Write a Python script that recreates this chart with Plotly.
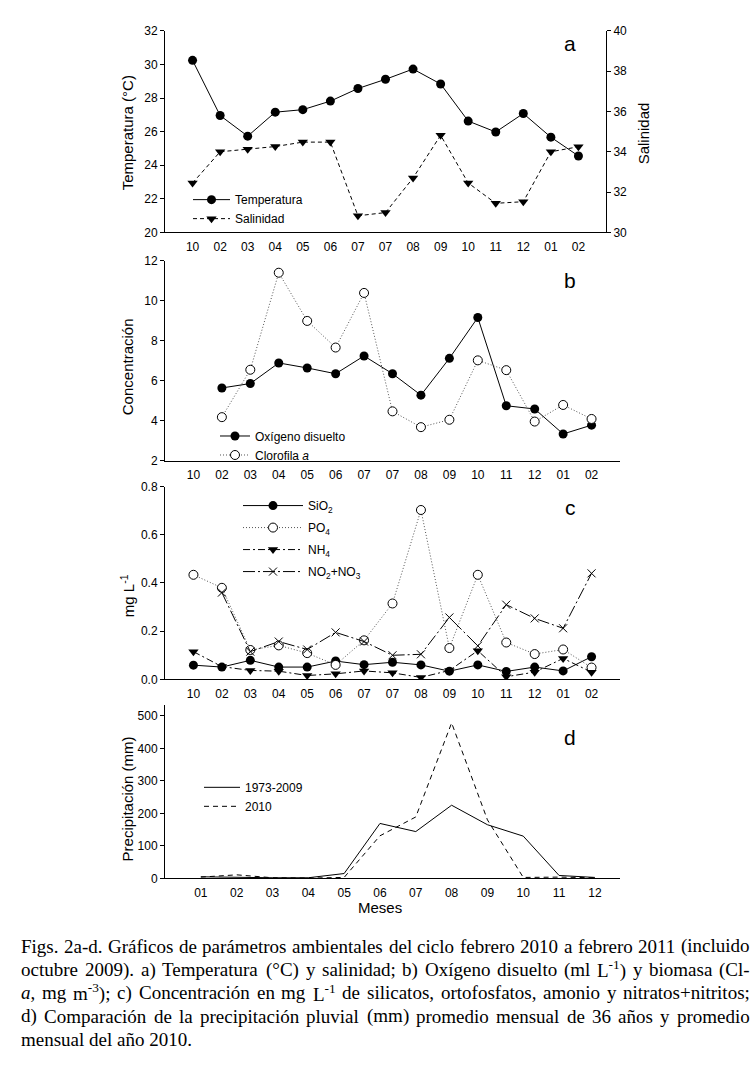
import re
import plotly.graph_objects as go

W, H = 756, 1067

# ---------------- data ----------------
meses_abc = ["10", "02", "03", "04", "05", "06", "07", "07", "08", "09", "10", "11", "12", "01", "02"]
idx_abc = list(range(len(meses_abc)))

temperatura = [30.25, 26.96, 25.73, 27.16, 27.31, 27.82, 28.57, 29.12, 29.73, 28.84, 26.63, 25.98, 27.08, 25.67, 24.55]
salinidad = [32.45, 34.0, 34.13, 34.26, 34.48, 34.48, 30.82, 30.98, 32.7, 34.82, 32.45, 31.44, 31.52, 34.0, 34.25]

oxigeno = [None, 5.65, 5.87, 6.9, 6.65, 6.36, 7.25, 6.36, 5.29, 7.13, 9.17, 4.76, 4.6, 3.35, 3.79]
clorofila = [None, 4.19, 6.56, 11.41, 9.0, 7.67, 10.4, 4.48, 3.69, 4.06, 7.03, 6.54, 3.97, 4.8, 4.1]

sio2 = [0.059, 0.051, 0.079, 0.051, 0.051, 0.076, 0.061, 0.071, 0.06, 0.034, 0.06, 0.033, 0.051, 0.035, 0.094]
po4 = [0.434, 0.38, 0.122, 0.141, 0.109, 0.06, 0.162, 0.315, 0.703, 0.13, 0.434, 0.153, 0.105, 0.124, 0.049]
nh4 = [0.115, 0.053, 0.037, 0.034, 0.016, 0.023, 0.035, 0.027, 0.008, 0.037, 0.119, 0.011, 0.03, 0.087, 0.03]
no2no3 = [None, 0.36, 0.115, 0.157, 0.124, 0.195, 0.157, 0.1, 0.104, 0.257, 0.139, 0.31, 0.253, 0.212, 0.44]

meses_d = ["01", "02", "03", "04", "05", "06", "07", "08", "09", "10", "11", "12"]
idx_d = list(range(1, 13))
prec_1973_2009 = [5, 3, 2, 2, 15, 169, 144, 225, 165, 130, 9, 3]
prec_2010 = [4, 11, 2, 1, 3, 131, 189, 478, 180, 3, 4, 2]

caption_lines = [
    "Figs. 2a-d. Gráficos de parámetros ambientales del ciclo febrero 2010 a febrero 2011 (incluido",
    "octubre 2009). a) Temperatura (°C) y salinidad; b) Oxígeno disuelto (ml L<sup>-1</sup>) y biomasa (Cl-",
    "<i>a</i>, mg m<sup>-3</sup>); c) Concentración en mg L<sup>-1</sup> de silicatos, ortofosfatos, amonio y nitratos+nitritos;",
    "d) Comparación de la precipitación pluvial (mm) promedio mensual de 36 años y promedio",
    "mensual del año 2010.",
]

# ---------------- helpers ----------------
FONT = "Liberation Sans"
SERIF = "Liberation Serif"
BLACK = "#000000"
GREY = "#555555"

# Times / Liberation Serif advance widths (1/1000 em), used to justify the caption
TIMES = {' ': 250, '(': 333, ')': 333, '+': 564, ',': 250, '-': 333, '.': 250, ':': 278, ';': 278,
         '°': 400, 'á': 444, 'é': 444, 'í': 278, 'ó': 500, 'ú': 500, 'ñ': 500,
         'A': 722, 'B': 667, 'C': 667, 'D': 722, 'E': 611, 'F': 556, 'G': 722, 'H': 722, 'I': 333,
         'L': 611, 'M': 889, 'N': 722, 'O': 722, 'P': 556, 'S': 556, 'T': 611,
         'a': 444, 'b': 500, 'c': 444, 'd': 500, 'e': 444, 'f': 333, 'g': 500, 'h': 500, 'i': 278,
         'j': 278, 'k': 500, 'l': 278, 'm': 778, 'n': 500, 'o': 500, 'p': 500, 'q': 500, 'r': 333,
         's': 389, 't': 278, 'u': 500, 'v': 500, 'w': 722, 'x': 500, 'y': 500, 'z': 444}
TIMES_ITALIC = {'a': 500}


def text_width(s, size):
    total = 0.0
    scale = 1.0
    italic = False
    for m in re.finditer(r'<(/?)(sup|i)>|([^<]+)', s):
        if m.group(3):
            for ch in m.group(3):
                if italic and ch in TIMES_ITALIC:
                    w = TIMES_ITALIC[ch]
                else:
                    w = TIMES.get(ch, 500)
                total += w * scale
        else:
            closing = m.group(1) == '/'
            if m.group(2) == 'sup':
                scale = 1.0 if closing else 0.7
            else:
                italic = not closing
    return total * size / 1000.0


def px(x):
    return x / W


def py(y):
    return 1 - y / H


LEFT = 165
RIGHT = 620
RIGHT_A = 606

fig = go.Figure()

filled_circle = dict(symbol="circle", size=9, color=BLACK)
open_circle = dict(symbol="circle", size=9, color="white", line=dict(color=BLACK, width=1))
tri = dict(symbol="triangle-down", size=9, color=BLACK)
xmark = dict(symbol="x-thin-open", size=8, color=BLACK, line=dict(color=BLACK, width=1))

# panel a
fig.add_trace(go.Scatter(x=idx_abc, y=temperatura, name="Temperatura", mode="lines+markers",
                         line=dict(color=BLACK, width=1), marker=filled_circle,
                         xaxis="x", yaxis="y", legend="legend"))
fig.add_trace(go.Scatter(x=idx_abc, y=salinidad, name="Salinidad", mode="lines+markers",
                         line=dict(color=BLACK, width=1, dash="4px,3px"), marker=tri,
                         xaxis="x", yaxis="y2", legend="legend"))
# panel b
fig.add_trace(go.Scatter(x=idx_abc, y=oxigeno, name="Oxígeno disuelto", mode="lines+markers",
                         line=dict(color=BLACK, width=1), marker=filled_circle,
                         xaxis="x2", yaxis="y3", legend="legend2"))
fig.add_trace(go.Scatter(x=idx_abc, y=clorofila, name="Clorofila <i>a</i>", mode="lines+markers",
                         line=dict(color=GREY, width=1, dash="1px,2px"), marker=open_circle,
                         xaxis="x2", yaxis="y3", legend="legend2"))
# panel c
fig.add_trace(go.Scatter(x=idx_abc, y=sio2, name="SiO<sub>2</sub>", mode="lines+markers",
                         line=dict(color=BLACK, width=1), marker=filled_circle,
                         xaxis="x3", yaxis="y4", legend="legend3", legendgroup="g1"))
fig.add_trace(go.Scatter(x=idx_abc, y=po4, name="PO<sub>4</sub>", mode="lines+markers",
                         line=dict(color=GREY, width=1, dash="1px,2px"), marker=open_circle,
                         xaxis="x3", yaxis="y4", legend="legend3", legendgroup="g2"))
fig.add_trace(go.Scatter(x=idx_abc, y=nh4, name="NH<sub>4</sub>", mode="lines+markers",
                         line=dict(color=BLACK, width=1, dash="7px,3px,2px,3px"), marker=tri,
                         xaxis="x3", yaxis="y4", legend="legend3", legendgroup="g3"))
fig.add_trace(go.Scatter(x=idx_abc, y=no2no3, name="NO<sub>2</sub>+NO<sub>3</sub>", mode="lines+markers",
                         line=dict(color=BLACK, width=1, dash="12px,3px,2px,3px"), marker=xmark,
                         xaxis="x3", yaxis="y4", legend="legend3", legendgroup="g4"))
# panel d
fig.add_trace(go.Scatter(x=idx_d, y=prec_1973_2009, name="1973-2009", mode="lines",
                         line=dict(color=BLACK, width=1),
                         xaxis="x4", yaxis="y5", legend="legend4"))
fig.add_trace(go.Scatter(x=idx_d, y=prec_2010, name="2010", mode="lines",
                         line=dict(color=BLACK, width=1, dash="5px,4px"),
                         xaxis="x4", yaxis="y5", legend="legend4"))

axis_common = dict(showline=True, linecolor=BLACK, linewidth=1, showgrid=False, zeroline=False,
                   tickfont=dict(family=FONT, size=12, color=BLACK))
xcommon = dict(axis_common, ticks="", tickvals=idx_abc, ticktext=meses_abc, ticklabelstandoff=3)
ycommon = dict(axis_common, ticks="outside", ticklen=4, tickwidth=1, tickcolor=BLACK)

layout = dict(
    width=W, height=H, margin=dict(l=0, r=0, t=0, b=0),
    paper_bgcolor="white", plot_bgcolor="white",
    font=dict(family=FONT, color=BLACK),
    xaxis=dict(xcommon, domain=[px(LEFT), px(RIGHT_A)], range=[-1, 15], anchor="y"),
    yaxis=dict(ycommon, domain=[py(228.3), py(24.3)], range=[20, 32], dtick=2, anchor="x"),
    yaxis2=dict(ycommon, overlaying="y", side="right", range=[30, 40], dtick=2, anchor="x"),
    xaxis2=dict(xcommon, domain=[px(LEFT), px(RIGHT)], range=[-1, 15], anchor="y3"),
    yaxis3=dict(ycommon, domain=[py(460), py(257.3)], range=[2, 12], dtick=2, anchor="x2"),
    xaxis3=dict(xcommon, domain=[px(LEFT), px(RIGHT)], range=[-1, 15], anchor="y4"),
    yaxis4=dict(ycommon, domain=[py(681.3), py(486)], range=[0, 0.8], dtick=0.2, tickformat=".1f", anchor="x3"),
    xaxis4=dict(axis_common, ticks="", tickvals=idx_d, ticktext=meses_d, ticklabelstandoff=3,
                domain=[px(LEFT), px(RIGHT)], range=[0, 12.7], anchor="y5"),
    yaxis5=dict(ycommon, domain=[py(883), py(707)], range=[0, 534], tickvals=[0, 100, 200, 300, 400, 500], anchor="x4"),
    showlegend=True,
)

leg = dict(bgcolor="rgba(0,0,0,0)", borderwidth=0, font=dict(family=FONT, size=12, color=BLACK),
           xanchor="left", yanchor="top", tracegroupgap=0)
layout["legend"] = dict(leg, x=px(188), y=py(180.5), itemwidth=37)
layout["legend2"] = dict(leg, x=px(215), y=py(420), itemwidth=30)
layout["legend3"] = dict(leg, x=px(238), y=py(490.5), itemwidth=60, tracegroupgap=3)
layout["legend4"] = dict(leg, x=px(199), y=py(776), itemwidth=36)

fig.update_layout(**layout)

ann = []


def ytitle(text, x, y):
    ann.append(dict(text=text, x=px(x), y=py(y), xref="paper", yref="paper", showarrow=False,
                    textangle=-90, xanchor="center", yanchor="middle",
                    font=dict(family=FONT, size=15, color=BLACK)))


ytitle("Temperatura (°C)", 127, 128)
ytitle("Salinidad", 643, 128)
ytitle("Concentración", 127, 365)
ytitle("mg L<sup>-1</sup>", 127, 597)
ytitle("Precipitación (mm)", 127, 803)

ann.append(dict(text="Meses", x=px(380), y=py(912), xref="paper", yref="paper", showarrow=False,
                xanchor="center", yanchor="middle", font=dict(family=FONT, size=15, color=BLACK)))

for letter, y in [("a", 37), ("b", 277), ("c", 507), ("d", 740)]:
    ann.append(dict(text=letter, x=px(570), y=py(y), xref="paper", yref="paper", showarrow=False,
                    xanchor="center", yanchor="middle", font=dict(family=FONT, size=21, color=BLACK)))

# caption: justified lines (last line left-aligned)
CAP_SIZE = 19
CAP_LEFT, CAP_RIGHT = 20, 749
for i, line in enumerate(caption_lines):
    yy = py(951.5 + 23.8 * i)
    words = line.split(" ")
    if i == len(caption_lines) - 1:
        ann.append(dict(text=line, x=px(CAP_LEFT), y=yy, xref="paper", yref="paper", showarrow=False,
                        xanchor="left", yanchor="middle", align="left", borderpad=0,
                        font=dict(family=SERIF, size=CAP_SIZE, color=BLACK)))
        continue
    widths = [text_width(w, CAP_SIZE) for w in words]
    gap = (CAP_RIGHT - CAP_LEFT - sum(widths)) / (len(words) - 1)
    xcur = CAP_LEFT
    for w, wd in zip(words, widths):
        ann.append(dict(text=w, x=px(xcur), y=yy, xref="paper", yref="paper", showarrow=False,
                        xanchor="left", yanchor="middle", align="left", borderpad=0,
                        font=dict(family=SERIF, size=CAP_SIZE, color=BLACK)))
        xcur += wd + gap

fig.update_layout(annotations=ann)

fig.write_html("out.html", config={"displayModeBar": False},
               post_script="document.body.style.margin='0';document.body.style.overflow='hidden';")
